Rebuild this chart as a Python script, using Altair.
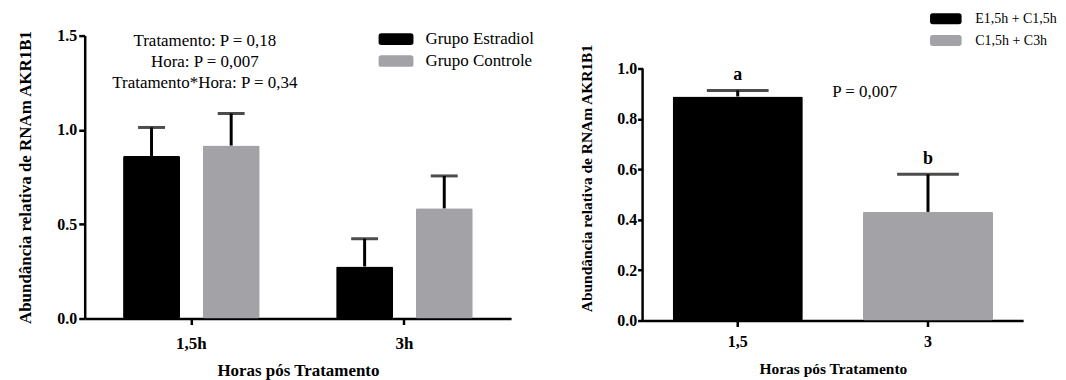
import altair as alt
import pandas as pd

# ---- data (left panel) ----
hours = ["1,5h", "3h"]
groups = ["Grupo Estradiol", "Grupo Controle"]
mean_estradiol = [0.862, 0.276]
mean_controle = [0.917, 0.584]
sem_estradiol = [0.151, 0.147]
sem_controle = [0.170, 0.172]
anova_text = ["Tratamento: P = 0,18", "Hora: P = 0,007", "Tratamento*Hora: P = 0,34"]

# ---- data (right panel) ----
hours_r = ["1,5", "3"]
series_r = ["E1,5h + C1,5h", "C1,5h + C3h"]
mean_r = [0.889, 0.431]
sem_r = [0.024, 0.149]
letters_r = ["a", "b"]
p_text = "P = 0,007"

FONT = "Liberation Serif"
BLACK = "#000000"
GRAY = "#a3a2a7"


def swatch(hw, hh, r):
    # rounded rectangle path, half-width hw, half-height hh, corner radius r (symbol units)
    return (f"M{-hw + r},{-hh} L{hw - r},{-hh} Q{hw},{-hh} {hw},{-hh + r} L{hw},{hh - r} "
            f"Q{hw},{hh} {hw - r},{hh} L{-hw + r},{hh} Q{-hw},{hh} {-hw},{hh - r} "
            f"L{-hw},{-hh + r} Q{-hw},{-hh} {-hw + r},{-hh} Z")


SWATCH_L = swatch(2.917, 0.975, 0.45)
SWATCH_R = swatch(2.88, 1.0, 0.5)

rows = []
for i, h in enumerate(hours):
    rows.append({"hora": h, "grupo": groups[0], "media": mean_estradiol[i],
                 "topo": mean_estradiol[i] + sem_estradiol[i]})
    rows.append({"hora": h, "grupo": groups[1], "media": mean_controle[i],
                 "topo": mean_controle[i] + sem_controle[i]})
left_df = pd.DataFrame(rows)

right_df = pd.DataFrame({
    "hora": hours_r, "serie": series_r, "media": mean_r,
    "topo": [m + s for m, s in zip(mean_r, sem_r)], "letra": letters_r,
})

AX = dict(labelFont=FONT, titleFont=FONT, labelFontWeight="bold", titleFontWeight="bold",
          labelColor="black", titleColor="black", tickColor="black", tickWidth=2.5, grid=False)

# ---------------- left panel ----------------
lx = alt.X("hora:N", sort=hours, title="Horas pós Tratamento",
           scale=alt.Scale(domain=hours, paddingInner=0.359, paddingOuter=0.18),
           axis=alt.Axis(labelAngle=0, labelFontSize=17, titleFontSize=17, tickSize=6,
                         labelPadding=11.5, titlePadding=11, bandPosition=0.5,
                         domainColor="black", domainWidth=2.5, **AX))
lxo = alt.XOffset("grupo:N", scale=alt.Scale(domain=groups, paddingInner=0.285, paddingOuter=0))
ly_axis = alt.Axis(values=[0, 0.5, 1.0, 1.5], format=".1f", labelFontSize=16, titleFontSize=17,
                   tickSize=6, labelPadding=2, titlePadding=22,
                   domainColor="black", domainWidth=2.5, **AX)


def ly(field):
    return alt.Y(field, type="quantitative", title="Abundância relativa de RNAm AKR1B1",
                 scale=alt.Scale(domain=[0, 1.5], nice=False), axis=ly_axis)


lcolor = alt.Color("grupo:N", scale=alt.Scale(domain=groups, range=[BLACK, GRAY]),
                   legend=alt.Legend(title=None, orient="none", legendX=304, legendY=-5,
                                     symbolType=SWATCH_L, symbolSize=144, symbolStrokeWidth=0,
                                     labelFont=FONT, labelFontSize=17, labelColor="black",
                                     rowPadding=4, labelOffset=21, padding=0))

lbase = alt.Chart(left_df)
lbars = lbase.mark_bar(cornerRadius=1.5).encode(x=lx, xOffset=lxo, y=ly("media"), color=lcolor)
lstems = lbase.mark_rule(color=BLACK, strokeWidth=3).encode(x=lx, xOffset=lxo, y=ly("media"), y2="topo")
lcaps = lbase.mark_tick(color=BLACK, thickness=3, size=27).encode(x=lx, xOffset=lxo, y=ly("topo"))
lnote = alt.Chart(pd.DataFrame({"t": ["\n".join(anova_text)]})).mark_text(
    font=FONT, fontSize=17, lineBreak="\n", lineHeight=21, align="center", baseline="middle",
    color="black").encode(x=alt.value(120.6), y=alt.datum(1.470), text="t:N")

left = alt.layer(lbars, lstems, lcaps, lnote).properties(width=428, height=284)

# ---------------- right panel ----------------
rx = alt.X("hora:N", sort=hours_r, title="Horas pós Tratamento",
           scale=alt.Scale(domain=hours_r, paddingInner=0.316, paddingOuter=0.158),
           axis=alt.Axis(labelAngle=0, labelFontSize=16, titleFontSize=15.5, tickSize=6,
                         labelPadding=6.7, titlePadding=12.5, bandPosition=0.5,
                         domainColor="black", domainWidth=2.5, **AX))
ry_axis = alt.Axis(values=[0, 0.2, 0.4, 0.6, 0.8, 1.0], format=".1f", labelFontSize=16,
                   titleFontSize=15.5, tickSize=5, labelPadding=1, titlePadding=22,
                   domain=False, **AX)


def ry(field):
    return alt.Y(field, type="quantitative", title="Abundância relativa de RNAm AKR1B1",
                 scale=alt.Scale(domain=[0, 1.1304], nice=False), axis=ry_axis)


rcolor = alt.Color("serie:N", scale=alt.Scale(domain=series_r, range=[BLACK, GRAY]),
                   legend=alt.Legend(title=None, orient="none", legendX=297.4, legendY=-24,
                                     symbolType=SWATCH_R, symbolSize=121, symbolStrokeWidth=0,
                                     labelFont=FONT, labelFontSize=14, labelColor="black",
                                     rowPadding=8, labelOffset=22.6, padding=0))

rbase = alt.Chart(right_df)
rbars = rbase.mark_bar(cornerRadius=1.5).encode(x=rx, y=ry("media"), color=rcolor)
rstems = rbase.mark_rule(color=BLACK, strokeWidth=3).encode(x=rx, y=ry("media"), y2="topo")
rcaps = rbase.mark_tick(color=BLACK, thickness=3, size=62).encode(x=rx, y=ry("topo"))
rletters = rbase.mark_text(font=FONT, fontSize=18, fontWeight="bold", dy=-15, baseline="middle",
                           color="black").encode(x=rx, y=ry("topo"), text="letra:N")
rp = alt.Chart(pd.DataFrame({"t": [p_text]})).mark_text(
    font=FONT, fontSize=17, align="center", baseline="middle", color="black"
).encode(x=alt.value(223), y=alt.datum(0.906), text="t:N")
raxis = alt.Chart(pd.DataFrame({"a": [0]})).mark_rule(color=BLACK, strokeWidth=2.5).encode(
    x=alt.value(0), y=alt.datum(0), y2=alt.datum(1.0))

right = alt.layer(rbars, rstems, rcaps, rletters, rp, raxis).properties(width=382, height=286)

chart = alt.hconcat(left, right, spacing=132, bounds="flush").resolve_scale(
    x="independent", y="independent", color="independent"
).properties(
    padding={"left": 8, "top": 3, "right": 0, "bottom": 0}
).configure_view(stroke=None).configure_axis(
    domainColor="black", domainWidth=2.5, tickColor="black", tickWidth=2.5,
    labelColor="black", titleColor="black", labelFont=FONT, titleFont=FONT,
    labelFontWeight="bold", titleFontWeight="bold", grid=False
)

chart.save("out.html", embed_options={"renderer": "svg", "actions": False})
